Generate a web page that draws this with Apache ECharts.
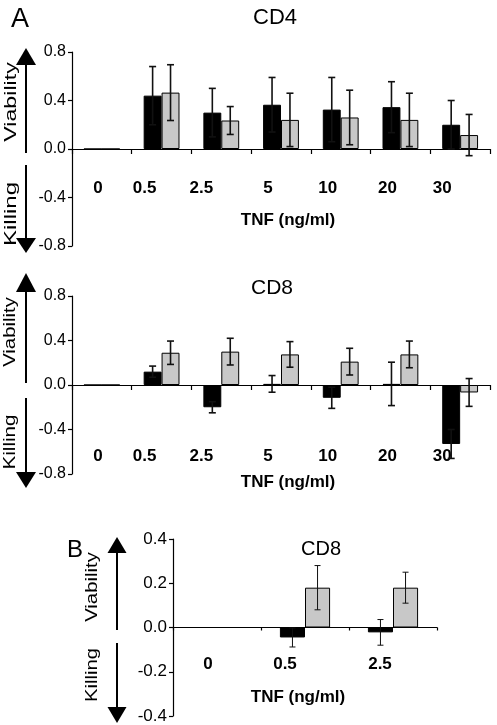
<!DOCTYPE html>
<html><head><meta charset="utf-8">
<script src="https://cdn.jsdelivr.net/npm/echarts@6/dist/echarts.min.js"></script>
<style>html,body{margin:0;padding:0;background:#fff}#c{width:497px;height:725px}</style>
</head><body><div id="c"></div>
<script>
const categoriesA = ['0','0.5','2.5','5','10','20','30'];
const cd4Black    = [0, 0.44, 0.30, 0.365, 0.325, 0.345, 0.20];
const cd4BlackErr = [0, 0.24, 0.20, 0.225, 0.265, 0.21, 0.20];
const cd4Gray     = [0, 0.465, 0.235, 0.24, 0.26, 0.24, 0.115];
const cd4GrayErr  = [0, 0.23, 0.115, 0.22, 0.225, 0.22, 0.17];
const cd8Black    = [0, 0.12, -0.20, 0.01, -0.115, 0.01, -0.53];
const cd8BlackErr = [0, 0.05, 0.05, 0.075, 0.095, 0.195, 0.13];
const cd8Gray     = [0, 0.29, 0.30, 0.275, 0.21, 0.275, -0.067];
const cd8GrayErr  = [0, 0.105, 0.12, 0.115, 0.12, 0.12, 0.125];
const categoriesB = ['0','0.5','2.5'];
const bBlack      = [0, -0.045, -0.022];
const bBlackErr   = [0, 0.043, 0.058];
const bGray       = [0, 0.18, 0.18];
const bGrayErr    = [0, 0.10, 0.07];
const ticksA = [-0.8, -0.4, 0.0, 0.4, 0.8];
const ticksB = [-0.4, -0.2, 0.0, 0.2, 0.4];
const xTitle = 'TNF (ng/ml)';

const FONT = 'Liberation Sans, Arial, Helvetica, sans-serif';
const chart = echarts.init(document.getElementById('c'));

const grids = [
  { left: 72, right: 7, top: 52, height: 194 },
  { left: 72, right: 7, top: 296, height: 178 },
  { left: 173, right: 60, top: 539, height: 177 }
];

function labelRich(shifts, size) {
  const rich = {};
  shifts.forEach((s, i) => {
    rich['l' + i] = { fontSize: size, fontWeight: 'bold', fontFamily: FONT, color: '#000', padding: [0, Math.max(0, -2 * s), 0, Math.max(0, 2 * s)] };
  });
  return rich;
}

function xAxisFor(gridIndex, cats, margin, shifts, nameGap, namePad, tickLen) {
  // axis drawn at the zero line: half the grid height above the grid bottom
  const off = -grids[gridIndex].height / 2;
  return {
    type: 'category', gridIndex, data: cats, position: 'bottom', offset: off,
    axisLine: { onZero: false, lineStyle: { color: '#000', width: 1.2 } },
    axisTick: { show: true, length: tickLen, lineStyle: { color: '#000', width: 1.2 } },
    axisLabel: {
      margin, interval: 0,
      formatter: (v, i) => '{l' + i + '|' + v + '}',
      rich: labelRich(shifts, 17)
    },
    name: xTitle, nameLocation: 'middle', nameGap,
    nameTextStyle: { fontSize: 17, fontWeight: 'bold', fontFamily: FONT, color: '#000', padding: namePad },
    splitLine: { show: false }
  };
}
function yAxisFor(gridIndex, ticks, fs) {
  const step = ticks[1] - ticks[0];
  return {
    type: 'value', gridIndex, min: ticks[0], max: ticks[ticks.length - 1], interval: step,
    axisLine: { show: true, lineStyle: { color: '#000', width: 1.2 } },
    axisTick: { show: true, length: 4, lineStyle: { color: '#000', width: 1.2 } },
    axisLabel: { margin: 6, fontSize: fs, fontFamily: FONT, color: '#000', formatter: v => v.toFixed(1) },
    splitLine: { show: false }
  };
}

function barSeries(idx, data, color) {
  return {
    type: 'bar', xAxisIndex: idx, yAxisIndex: idx, data,
    barGap: 0, barCategoryGap: idx === 2 ? '43%' : '40%',
    itemStyle: { color, borderColor: '#000', borderWidth: 1 },
    animation: false, silent: true
  };
}
function errSeries(idx, vals, errs, side, widthFrac, lw, cap) {
  return {
    type: 'custom', xAxisIndex: idx, yAxisIndex: idx, z: 5,
    data: vals.map((v, i) => [i, v, errs[i]]),
    encode: { x: 0, y: 1 },
    animation: false, silent: true,
    renderItem: function (params, api) {
      const i = api.value(0), v = api.value(1), e = api.value(2);
      if (!e) return null;
      const band = api.size([1, 0])[0];
      const cx = api.coord([i, v])[0] + side * widthFrac * band;
      const yt = api.coord([i, v + e])[1];
      const yb = api.coord([i, v - e])[1];
      const st = { stroke: '#111', lineWidth: lw };
      return { type: 'group', children: [
        { type: 'line', shape: { x1: cx, y1: yt, x2: cx, y2: yb }, style: st },
        { type: 'line', shape: { x1: cx - cap, y1: yt, x2: cx + cap, y2: yt }, style: st },
        { type: 'line', shape: { x1: cx - cap, y1: yb, x2: cx + cap, y2: yb }, style: st }
      ] };
    }
  };
}

function arrow(x, yTop, yBot, headUp, headLen, halfW) {
  const els = [];
  if (headUp) {
    els.push({ type: 'line', shape: { x1: x, y1: yTop + headLen, x2: x, y2: yBot }, style: { stroke: '#000', lineWidth: 2 } });
    els.push({ type: 'polygon', shape: { points: [[x, yTop], [x - halfW, yTop + headLen], [x + halfW, yTop + headLen]] }, style: { fill: '#000' } });
  } else {
    els.push({ type: 'line', shape: { x1: x, y1: yTop, x2: x, y2: yBot - headLen }, style: { stroke: '#000', lineWidth: 2 } });
    els.push({ type: 'polygon', shape: { points: [[x, yBot], [x - halfW, yBot - headLen], [x + halfW, yBot - headLen]] }, style: { fill: '#000' } });
  }
  return els;
}
function vtext(txt, x, y, sx) {
  return { type: 'text', x, y, rotation: Math.PI / 2, scaleX: sx,
    style: { text: txt, fontSize: 16, fontFamily: FONT, fill: '#000', align: 'center', verticalAlign: 'middle', textAlign: 'center', textVerticalAlign: 'middle' } };
}

const graphics = [].concat(
  arrow(26, 48, 153, true, 17, 10), arrow(26, 165, 253, false, 15, 10),
  arrow(26, 273, 383, true, 19, 10), arrow(26, 398, 488, false, 16, 10),
  arrow(117, 537, 630, true, 16, 9.5), arrow(117, 643, 723, false, 16, 9.5),
  [
    vtext('Viability', 12, 102, 1.45), vtext('Killing', 12, 214, 1.5),
    vtext('Viability', 11, 332, 1.27), vtext('Killing', 11, 442, 1.29),
    vtext('Viability', 93, 587, 1.27), vtext('Killing', 93, 675, 1.26)
  ]
);

const shiftsA = [-4, -17, -20, -13, -13, -13, -18];
const shiftsB = [-9, -20, -13];

const option = {
  backgroundColor: '#fff',
  textStyle: { fontFamily: FONT },
  title: [
    { text: 'A', left: 6, top: 1, textStyle: { fontSize: 27, fontWeight: 'normal', color: '#000', fontFamily: FONT } },
    { text: 'CD4', left: 270, top: 2, textAlign: 'center', textStyle: { fontSize: 22, fontWeight: 'normal', color: '#000', fontFamily: FONT } },
    { text: 'CD8', left: 267, top: 273, textAlign: 'center', textStyle: { fontSize: 21, fontWeight: 'normal', color: '#000', fontFamily: FONT } },
    { text: 'B', left: 62, top: 533, textStyle: { fontSize: 24, fontWeight: 'normal', color: '#000', fontFamily: FONT } },
    { text: 'CD8', left: 316, top: 534, textAlign: 'center', textStyle: { fontSize: 20, fontWeight: 'normal', color: '#000', fontFamily: FONT } }
  ],
  grid: grids,
  xAxis: [
    xAxisFor(0, categoriesA, 31, shiftsA, 63, [0, 0, 0, 14], 5),
    xAxisFor(1, categoriesA, 63, shiftsA, 89, [0, 0, 0, 14], 5),
    xAxisFor(2, categoriesB, 28, shiftsB, 61, [0, 14, 0, 0], 3)
  ],
  yAxis: [ yAxisFor(0, ticksA, 16), yAxisFor(1, ticksA, 16), yAxisFor(2, ticksB, 17) ],
  series: [
    barSeries(0, cd4Black, '#000'), barSeries(0, cd4Gray, '#c8c8c8'),
    barSeries(1, cd8Black, '#000'), barSeries(1, cd8Gray, '#c8c8c8'),
    barSeries(2, bBlack, '#000'), barSeries(2, bGray, '#c8c8c8'),
    errSeries(0, cd4Black, cd4BlackErr, -1, 0.15, 1.6, 3.5),
    errSeries(0, cd4Gray, cd4GrayErr, 1, 0.15, 1.6, 3.5),
    errSeries(1, cd8Black, cd8BlackErr, -1, 0.15, 1.6, 3.5),
    errSeries(1, cd8Gray, cd8GrayErr, 1, 0.15, 1.6, 3.5),
    errSeries(2, bBlack, bBlackErr, -1, 0.1425, 1, 3),
    errSeries(2, bGray, bGrayErr, 1, 0.1425, 1, 3)
  ],
  graphic: { elements: graphics },
  animation: false
};
chart.setOption(option);
</script>
</body></html>
